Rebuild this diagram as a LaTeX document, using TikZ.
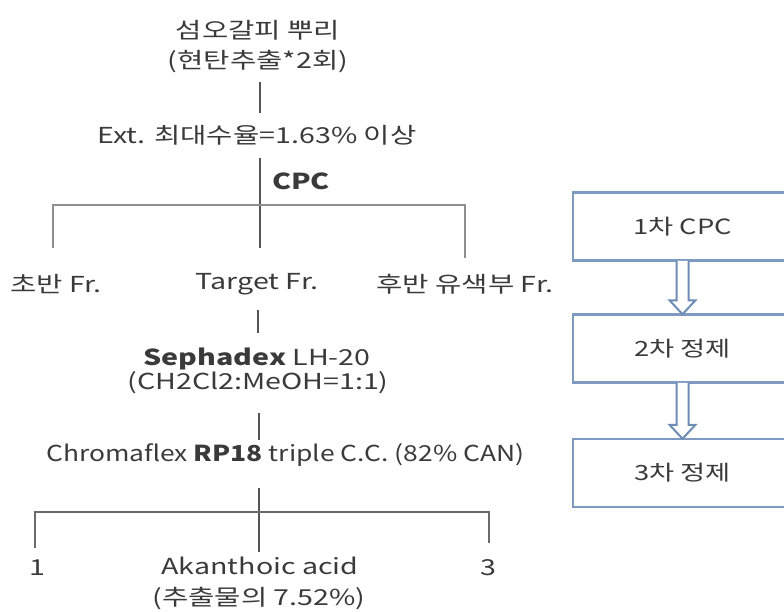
\documentclass[tikz,border=0pt]{standalone}
\usepackage{graphicx}
\usepackage{fontspec}
\setmainfont{Noto Sans CJK KR}
\definecolor{txtc}{HTML}{3A3A3A}
\definecolor{lnc}{HTML}{8E8E8E}
\definecolor{lnd}{HTML}{6A6A6A}
\definecolor{vlc}{HTML}{555555}
\definecolor{bxc}{HTML}{7F9AC0}
\definecolor{arc}{HTML}{6D8DB5}
\newcommand{\sx}[1]{\scalebox{1.3}[1]{#1}}
\begin{document}
\begin{tikzpicture}[x=1pt,y=-1pt,
  txt/.style={inner sep=0pt, font=\fontsize{22}{26}\selectfont, text=txtc},
  hl/.style={draw=lnc, line width=2.6pt},
  hld/.style={draw=lnd, line width=2.4pt},
  vl/.style={draw=vlc, line width=1.8pt},
  bx/.style={draw=bxc, line width=2.5pt, fill=white, inner sep=0pt,
    minimum width=219pt, minimum height=68pt, font=\fontsize{21}{25}\selectfont, text=txtc},
  harrow/.style={draw=arc, line width=2pt, fill=white, line join=miter}]
\useasboundingbox (0,0) rectangle (784,611);
\clip (0,0) rectangle (784,611);
% left tree texts
\node[txt] (t1) at (258,30) {\sx{섬오갈피 뿌리}};
\node[txt] (t2) at (258,61) {\sx{(현탄추출*2회)}};
\node[txt] (ext) at (257,135) {\sx{Ext. 최대수율=1.63\% 이상}};
\node[txt, anchor=west] (cpc) at (272,181) {\sx{\bfseries CPC}};
\node[txt] (f1) at (56,284) {\sx{초반 Fr.}};
\node[txt] (f2) at (257,284) {\sx{Target Fr.}};
\node[txt] (f3) at (465,284) {\sx{후반 유색부 Fr.}};
\node[txt] (s1) at (257,359) {\sx{\textbf{Sephadex} LH-20}};
\node[txt] (s2) at (258,383) {\sx{(CH2Cl2:MeOH=1:1)}};
\node[txt, anchor=west] (chr) at (46,455) {\scalebox{1.2}[1]{Chromaflex \textbf{RP18} triple C.C. (82\% CAN)}};
\node[txt] (r1) at (37,568) {\sx{1}};
\node[txt] (r2) at (260,566) {\sx{Akanthoic acid}};
\node[txt] (r3) at (488,568) {\sx{3}};
\node[txt] (r2b) at (259,598) {\sx{(추출물의 7.52\%)}};
% connector coordinates
\coordinate (a1) at (260,82);
\coordinate (a2) at (260,113);
\coordinate (b1) at (260,158);
\coordinate (j1) at (260,205);
\coordinate (jl) at (53,205);
\coordinate (jr) at (465,205);
\coordinate (dl) at (53,248);
\coordinate (dc) at (260,248);
\coordinate (dr) at (465,258);
\coordinate (c1) at (258,310);
\coordinate (c2) at (258,333);
\coordinate (e1) at (259,413);
\coordinate (e2) at (259,440);
\coordinate (g1) at (259,488);
\coordinate (j2) at (259,512);
\coordinate (kl) at (35,512);
\coordinate (kr) at (489,512);
\coordinate (ml) at (35,548);
\coordinate (mc) at (259,552);
\coordinate (mr) at (489,543);
% connectors
\draw[vl] (a1) -- (a2);
\draw[vl] (b1) -- (j1) -- (dc);
\draw[hl] (dl) -- (jl) -- (jr) -- (dr);
\draw[vl] (c1) -- (c2);
\draw[vl] (e1) -- (e2);
\draw[vl] (g1) -- (j2) -- (mc);
\draw[hld] (ml) -- (kl) -- (kr) -- (mr);
% right process boxes
\node[bx] (p1) at (682.5,226.5) {\sx{1차 CPC}};
\node[bx] (p2) at (682.5,348.5) {\sx{2차 정제}};
\node[bx] (p3) at (682.5,473) {\sx{3차 정제}};
% hollow arrows
\foreach \s/\t in {p1/p2, p2/p3}{
  \draw[harrow] ([xshift=-6pt,yshift=1pt]\s.south) -- ([xshift=-6pt,yshift=13pt]\t.north)
    -- ([xshift=-13pt,yshift=13pt]\t.north) -- ([yshift=-1pt]\t.north)
    -- ([xshift=13pt,yshift=13pt]\t.north) -- ([xshift=6pt,yshift=13pt]\t.north)
    -- ([xshift=6pt,yshift=1pt]\s.south);
}
\end{tikzpicture}
\end{document}
